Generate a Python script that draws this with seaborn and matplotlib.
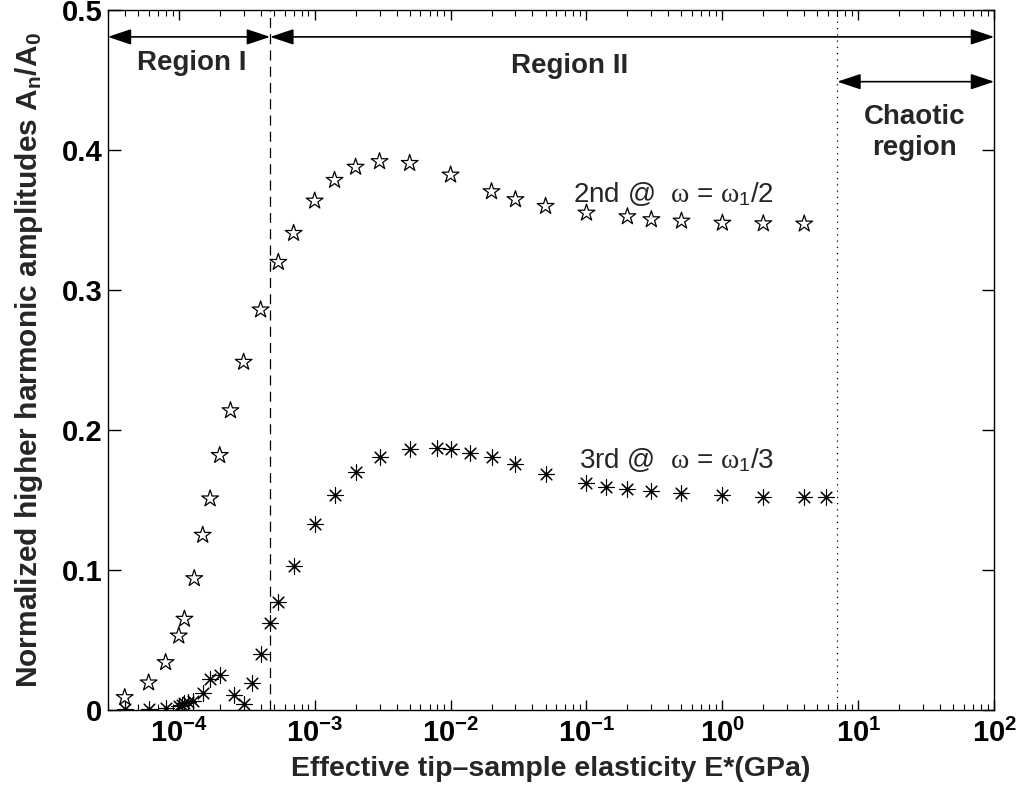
import numpy as np
import pandas as pd
import matplotlib
matplotlib.use("Agg")
import matplotlib.pyplot as plt
from matplotlib.ticker import FixedLocator, FuncFormatter, LogLocator, NullFormatter
import seaborn as sns

# ---- data ----
E_2nd = [4.0e-5, 6.0e-5, 8.0e-5, 1.0e-4, 1.1e-4, 1.3e-4, 1.5e-4, 1.7e-4, 2.0e-4, 2.4e-4,
         3.0e-4, 4.0e-4, 5.4e-4, 7.0e-4, 1.0e-3, 1.4e-3, 2.0e-3, 3.0e-3, 5.0e-3, 1.0e-2,
         2.0e-2, 3.0e-2, 5.0e-2, 0.1, 0.2, 0.3, 0.5, 1.0, 2.0, 4.0]
A_2nd = [0.009, 0.0195, 0.034, 0.053, 0.065, 0.094, 0.125, 0.151, 0.182, 0.214,
         0.2486, 0.286, 0.320, 0.3407, 0.3638, 0.3786, 0.388, 0.392, 0.3907, 0.3824,
         0.3705, 0.3648, 0.360, 0.3552, 0.3526, 0.3505, 0.3495, 0.348, 0.3476, 0.3474]

E_3rd = [4.0e-5, 6.0e-5, 8.0e-5, 1.0e-4, 1.05e-4, 1.1e-4, 1.17e-4, 1.27e-4, 1.5e-4, 1.7e-4,
         2.0e-4, 2.55e-4, 3.0e-4, 3.45e-4, 4.0e-4, 4.7e-4, 5.4e-4, 7.0e-4, 1.0e-3, 1.4e-3,
         2.0e-3, 3.0e-3, 5.0e-3, 8.0e-3, 1.0e-2, 1.4e-2, 2.0e-2, 3.0e-2, 5.0e-2, 0.1,
         0.14, 0.2, 0.3, 0.5, 1.0, 2.0, 4.0, 5.8]
A_3rd = [0.001, 0.001, 0.0015, 0.0027, 0.0036, 0.0048, 0.0055, 0.0064, 0.0125, 0.022,
         0.025, 0.011, 0.0045, 0.019, 0.0398, 0.0619, 0.0774, 0.1029, 0.1329, 0.1538,
         0.1698, 0.1805, 0.1864, 0.1869, 0.1862, 0.1838, 0.1805, 0.1757, 0.169, 0.162,
         0.1595, 0.158, 0.1564, 0.1548, 0.1536, 0.1524, 0.152, 0.152]

x_ticks = [1e-4, 1e-3, 1e-2, 1e-1, 1e0, 1e1, 1e2]
x_ticklabels = ["-4", "-3", "-2", "-1", "0", "1", "2"]
y_ticks = [0, 0.1, 0.2, 0.3, 0.4, 0.5]
y_ticklabels = ["0", "0.1", "0.2", "0.3", "0.4", "0.5"]

region_boundary = 4.7e-4
chaos_boundary = 7.0

df2 = pd.DataFrame({"E": E_2nd, "A": A_2nd})
df3 = pd.DataFrame({"E": E_3rd, "A": A_3rd})

# ---- style ----
sns.set_style("ticks")
plt.rcParams["font.family"] = ["Liberation Sans", "DejaVu Sans"]
plt.rcParams["mathtext.fontset"] = "custom"
plt.rcParams["mathtext.rm"] = "Liberation Sans"
plt.rcParams["mathtext.bf"] = "Liberation Sans:bold"
plt.rcParams["mathtext.it"] = "Liberation Serif"
plt.rcParams["mathtext.sf"] = "Liberation Sans"
plt.rcParams["axes.linewidth"] = 1.0

fig = plt.figure(figsize=(10.26, 7.92), dpi=100)
ax = fig.add_axes([0.105, 0.1035, 0.864, 0.8835])

sns.scatterplot(data=df2, x="E", y="A", marker="*", s=160, facecolor="none",
                edgecolor="black", linewidth=0.9, ax=ax, zorder=3)
sns.scatterplot(data=df3, x="E", y="A", marker=(8, 2, 0), s=120, color="black",
                edgecolor="black", linewidth=0.8, ax=ax, zorder=3)

ax.set_xscale("log")
ax.set_xlim(3e-5, 1e2)
ax.set_ylim(0, 0.5)

ax.xaxis.set_major_locator(FixedLocator(x_ticks))
ax.xaxis.set_major_formatter(FuncFormatter(
    lambda v, p: r"$\mathbf{10^{%s}}$" % x_ticklabels[x_ticks.index(v)] if v in x_ticks else ""))
ax.xaxis.set_minor_locator(LogLocator(base=10, subs=np.arange(2, 10), numticks=20))
ax.xaxis.set_minor_formatter(NullFormatter())
ax.yaxis.set_major_locator(FixedLocator(y_ticks))
ax.set_yticklabels(y_ticklabels)

ax.tick_params(which="both", direction="in", top=True, right=True, colors="black")
ax.tick_params(which="major", length=7, width=1, labelsize=21)
ax.tick_params(axis="y", which="major", length=9, pad=4)
ax.tick_params(axis="x", which="major", pad=6)
ax.tick_params(which="minor", length=4, width=0.8)
for lab in ax.get_yticklabels():
    lab.set_fontweight("bold")
for lab in ax.get_xticklabels():
    lab.set_fontweight("bold")
for sp in ax.spines.values():
    sp.set_visible(True)
    sp.set_color("black")

ax.set_xlabel("Effective tip\u2013sample elasticity E*(GPa)", fontsize=20.5,
              fontweight="bold", labelpad=6)
ax.set_ylabel(r"Normalized higher harmonic amplitudes A$_\mathbf{n}$/A$_\mathbf{0}$",
              fontsize=21.5, fontweight="bold", labelpad=12)

# region boundaries
ax.axvline(region_boundary, color="black", linestyle=(0, (8, 5)), linewidth=0.9, zorder=1)
ax.axvline(chaos_boundary, color="black", linestyle=(0, (1, 4)), linewidth=0.9, zorder=1)

arrow = dict(arrowstyle="<|-|>,head_length=0.9,head_width=0.3", color="black", lw=1.2,
             shrinkA=0, shrinkB=0, mutation_scale=16)
ax.annotate("", xy=(3e-5, 0.481), xytext=(region_boundary, 0.481), arrowprops=arrow)
ax.annotate("", xy=(region_boundary, 0.481), xytext=(1e2, 0.481), arrowprops=arrow)
ax.annotate("", xy=(chaos_boundary, 0.449), xytext=(1e2, 0.449), arrowprops=arrow)

ax.text(1.25e-4, 0.462, "Region I", fontsize=20, fontweight="bold", ha="center", va="center")
ax.text(7.5e-2, 0.460, "Region II", fontsize=20, fontweight="bold", ha="center", va="center")
ax.text(2.6e1, 0.4125, "Chaotic\nregion", fontsize=20, fontweight="bold", ha="center",
        va="center", linespacing=1.25)

ax.text(0.08, 0.369, r"2nd @  $\omega$ = $\omega_1$/2", fontsize=20, ha="left", va="center")
ax.text(0.088, 0.1786, r"3rd @  $\omega$ = $\omega_1$/3", fontsize=20, ha="left", va="center")

fig.savefig("out.png", dpi=100)
